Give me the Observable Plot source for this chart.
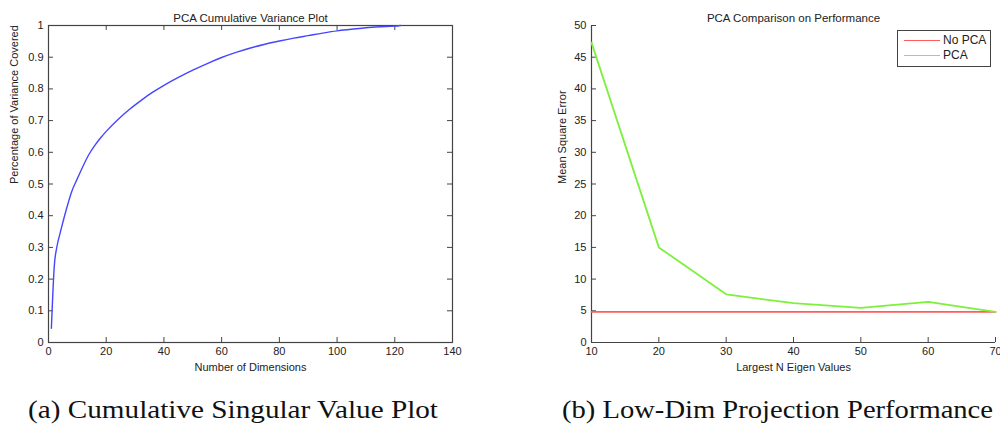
<!DOCTYPE html>
<html><head><meta charset="utf-8">
<script src="https://cdn.jsdelivr.net/npm/d3@7"></script>
<script src="https://cdn.jsdelivr.net/npm/@observablehq/plot@0.6"></script>
<style>
body{margin:0;background:#fff;}
#wrap{position:relative;width:1000px;height:428px;overflow:hidden;background:#fff;}
.panel{position:absolute;top:0;}
.cap{position:absolute;top:396px;font-family:"Liberation Serif","Times New Roman",serif;font-size:25px;white-space:nowrap;color:#111;transform-origin:left top;}
#legend{position:absolute;left:897px;top:30px;width:92px;height:35px;border:1px solid #444;background:#fff;font-family:"Liberation Sans",Arial,sans-serif;font-size:12px;color:#222;}
.lg{position:absolute;left:6px;height:14px;display:flex;align-items:center;}
.lg .sw{width:36px;height:0;border-top:1.5px solid;margin-right:3px;}
</style></head>
<body>
<div id="wrap">
  <div id="pa" class="panel" style="left:0"></div>
  <div id="pb" class="panel" style="left:500px"></div>
  <div id="legend"></div>
  <div id="capA" class="cap" style="left:28px"></div>
  <div id="capB" class="cap" style="left:562px"></div>
</div>
<script>
// ---- Panel (a) data ----
const titleA = "PCA Cumulative Variance Plot";
const xLabelA = "Number of Dimensions";
const yLabelA = "Percentage of Variance Covered";
const captionA = "(a) Cumulative Singular Value Plot";
const xTicksA = [0, 20, 40, 60, 80, 100, 120, 140];
const yTicksA = [0, 0.1, 0.2, 0.3, 0.4, 0.5, 0.6, 0.7, 0.8, 0.9, 1];
const dims = [1, 2, 3, 4, 5, 6, 8, 10, 12, 14, 16, 18, 20, 24, 28, 32, 36, 40, 45, 50, 55, 60, 65, 70, 75, 80, 85, 90, 95, 100, 105, 110, 115, 120, 122];
const variance = [0.045, 0.24, 0.306, 0.344, 0.38, 0.414, 0.475, 0.517, 0.557, 0.593, 0.621, 0.645, 0.666, 0.703, 0.735, 0.763, 0.789, 0.811, 0.836, 0.859, 0.88, 0.899, 0.915, 0.929, 0.941, 0.951, 0.96, 0.968, 0.976, 0.983, 0.988, 0.993, 0.996, 0.998, 1.0];

// ---- Panel (b) data ----
const titleB = "PCA Comparison on Performance";
const xLabelB = "Largest N Eigen Values";
const yLabelB = "Mean Square Error";
const captionB = "(b) Low-Dim Projection Performance";
const xTicksB = [10, 20, 30, 40, 50, 60, 70];
const yTicksB = [0, 5, 10, 15, 20, 25, 30, 35, 40, 45, 50];
const eigenN = [10, 20, 30, 40, 50, 60, 70];
const noPCA = [4.82, 4.82, 4.82, 4.82, 4.82, 4.82, 4.82];
const withPCA = [47.3, 15.0, 7.6, 6.2, 5.45, 6.4, 4.82];
const seriesNames = ["No PCA", "PCA"];
const seriesColors = ["#ff5c5c", "#7df03c"];

const W = 500, H = 385, MT = 25, MB = 43;
const axisColor = "#444";
const txt = "#222";
const font = "'Liberation Sans', Arial, Helvetica, sans-serif";

// Panel (a)
{
  const ML = 48, MR = 48;
  const pw = W - ML - MR, ph = H - MT - MB;
  const pts = dims.map((d, i) => ({x: d, y: variance[i]}));
  const chart = Plot.plot({
    width: W, height: H, marginLeft: ML, marginRight: MR, marginTop: MT, marginBottom: MB,
    style: {fontFamily: font, fontSize: "11px", color: txt, background: "transparent"},
    x: {domain: [0, 140]},
    y: {domain: [0, 1]},
    marks: [
      Plot.tickX(xTicksA, {x: d => d, insetTop: ph - 5, stroke: axisColor}),
      Plot.tickX(xTicksA, {x: d => d, insetBottom: ph - 5, stroke: axisColor}),
      Plot.tickY(yTicksA, {y: d => d, insetRight: pw - 5, stroke: axisColor}),
      Plot.tickY(yTicksA, {y: d => d, insetLeft: pw - 5, stroke: axisColor}),
      Plot.frame({stroke: axisColor, strokeWidth: 1.2}),
      Plot.axisX(xTicksA, {tickSize: 0, tickPadding: 5, label: null, fill: txt}),
      Plot.axisY(yTicksA, {tickSize: 0, tickPadding: 5, label: null, fill: txt, tickFormat: d => String(+d.toFixed(1))}),
      Plot.line(pts, {x: "x", y: "y", stroke: "#4646ff", strokeWidth: 1.4, curve: "monotone-x"}),
      Plot.text([titleA], {text: d => d, frameAnchor: "top", dy: -12, fontSize: 11.5, fill: txt}),
      Plot.text([xLabelA], {text: d => d, frameAnchor: "bottom", dy: 28, fontSize: 11, fill: txt}),
      Plot.text([yLabelA], {text: d => d, frameAnchor: "left", dx: -34, rotate: -90, fontSize: 11, fill: txt})
    ]
  });
  document.getElementById("pa").appendChild(chart);
}

// Panel (b)
{
  const ML = 91, MR = 5;
  const pw = W - ML - MR, ph = H - MT - MB;
  const rows = [];
  eigenN.forEach((n, i) => {
    rows.push({x: n, y: noPCA[i], s: seriesNames[0]});
  });
  eigenN.forEach((n, i) => {
    rows.push({x: n, y: withPCA[i], s: seriesNames[1]});
  });
  const chart = Plot.plot({
    width: W, height: H, marginLeft: ML, marginRight: MR, marginTop: MT, marginBottom: MB,
    style: {fontFamily: font, fontSize: "11px", color: txt, background: "transparent", overflow: "visible"},
    x: {domain: [10, 70]},
    y: {domain: [0, 50]},
    color: {domain: seriesNames, range: seriesColors},
    marks: [
      Plot.tickX(xTicksB, {x: d => d, insetTop: ph - 5, stroke: axisColor}),
      Plot.tickY(yTicksB, {y: d => d, insetRight: pw - 5, stroke: axisColor}),
      Plot.ruleX([10], {stroke: axisColor, strokeWidth: 1.2}),
      Plot.ruleY([0], {stroke: axisColor, strokeWidth: 1.2}),
      Plot.axisX(xTicksB, {tickSize: 0, tickPadding: 5, label: null, fill: txt}),
      Plot.axisY(yTicksB, {tickSize: 0, tickPadding: 5, label: null, fill: txt}),
      Plot.line(rows, {x: "x", y: "y", z: "s", stroke: "s", strokeWidth: 1.8}),
      Plot.text([titleB], {text: d => d, frameAnchor: "top", dy: -12, fontSize: 11.5, fill: txt}),
      Plot.text([xLabelB], {text: d => d, frameAnchor: "bottom", dy: 28, fontSize: 11, fill: txt}),
      Plot.text([yLabelB], {text: d => d, frameAnchor: "left", dx: -29, rotate: -90, fontSize: 11, fill: txt})
    ]
  });
  document.getElementById("pb").appendChild(chart);
}

// Legend (b)
{
  const lg = document.getElementById("legend");
  seriesNames.forEach((name, i) => {
    const row = document.createElement("div");
    row.className = "lg";
    row.style.top = (i === 0 ? 2 : 17) + "px";
    const sw = document.createElement("span");
    sw.className = "sw";
    sw.style.borderTopColor = seriesColors[i];
    const lab = document.createElement("span");
    lab.textContent = name;
    row.appendChild(sw); row.appendChild(lab);
    lg.appendChild(row);
  });
}

// Captions
function fitCaption(id, text, target) {
  const el = document.getElementById(id);
  el.textContent = text;
  const w = el.getBoundingClientRect().width;
  if (w > 0) el.style.transform = `scaleX(${target / w})`;
}
fitCaption("capA", captionA, 410);
fitCaption("capB", captionB, 431);
</script>
</body></html>
